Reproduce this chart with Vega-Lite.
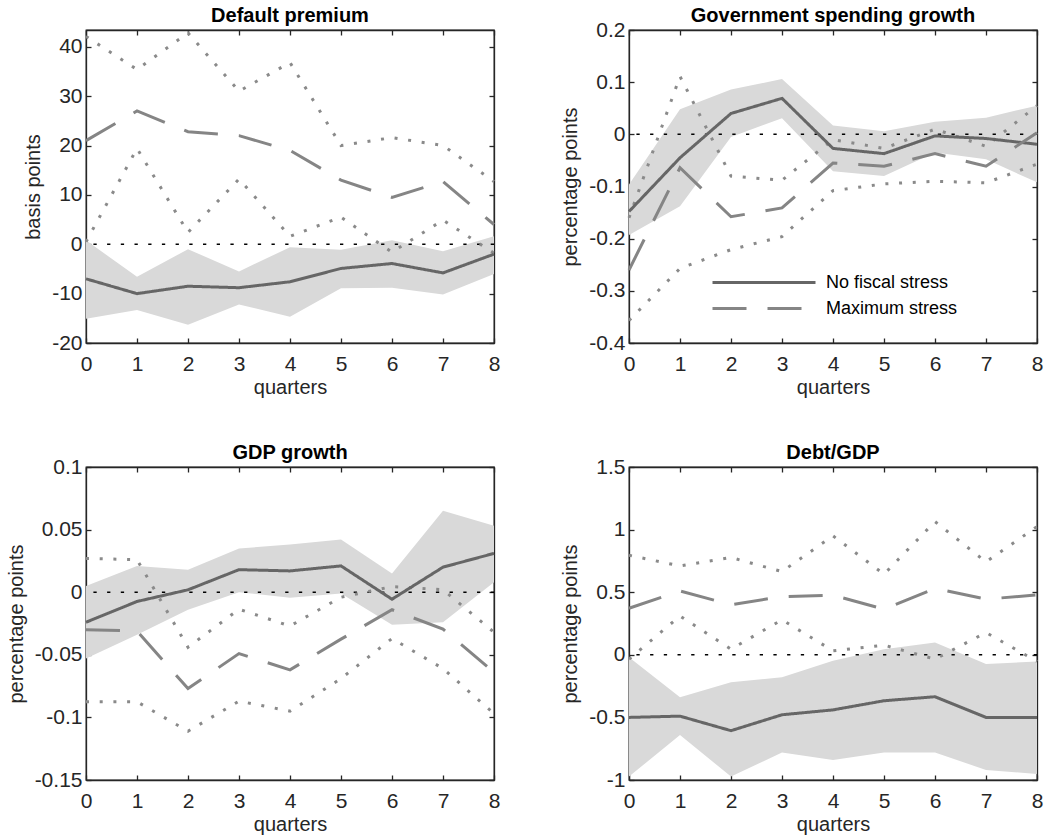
{
  "$schema": "https://vega.github.io/schema/vega-lite/v6.json",
  "padding": {"left": 5, "top": 5, "right": 5, "bottom": 0},
  "background": "white",
  "datasets": {
    "d": [
      {"panel": "dp", "q": 0, "nf": -7.0, "nflo": -15.1, "nfhi": 0.8, "ms": 21.0, "mslo": 0.5, "mshi": 42.1},
      {"panel": "dp", "q": 1, "nf": -10.0, "nflo": -13.3, "nfhi": -6.6, "ms": 27.0, "mslo": 19.4, "mshi": 35.4},
      {"panel": "dp", "q": 2, "nf": -8.5, "nflo": -16.3, "nfhi": -1.0, "ms": 22.8, "mslo": 2.4, "mshi": 42.8},
      {"panel": "dp", "q": 3, "nf": -8.8, "nflo": -12.2, "nfhi": -5.5, "ms": 22.0, "mslo": 13.2, "mshi": 31.0},
      {"panel": "dp", "q": 4, "nf": -7.6, "nflo": -14.7, "nfhi": -0.6, "ms": 19.0, "mslo": 1.6, "mshi": 36.8},
      {"panel": "dp", "q": 5, "nf": -4.9, "nflo": -8.9, "nfhi": -1.1, "ms": 13.0, "mslo": 5.5, "mshi": 20.0},
      {"panel": "dp", "q": 6, "nf": -3.9, "nflo": -8.8, "nfhi": 0.8, "ms": 9.5, "mslo": -1.6, "mshi": 21.6},
      {"panel": "dp", "q": 7, "nf": -5.8, "nflo": -10.2, "nfhi": -1.4, "ms": 12.7, "mslo": 4.9, "mshi": 20.0},
      {"panel": "dp", "q": 8, "nf": -2.0, "nflo": -6.0, "nfhi": 1.6, "ms": 4.0, "mslo": -1.8, "mshi": 12.7},
      {"panel": "gs", "q": 0, "nf": -0.148, "nflo": -0.193, "nfhi": -0.096, "ms": -0.26, "mslo": -0.357, "mshi": -0.16},
      {"panel": "gs", "q": 1, "nf": -0.045, "nflo": -0.138, "nfhi": 0.048, "ms": -0.064, "mslo": -0.257, "mshi": 0.111},
      {"panel": "gs", "q": 2, "nf": 0.04, "nflo": -0.005, "nfhi": 0.086, "ms": -0.158, "mslo": -0.221, "mshi": -0.08},
      {"panel": "gs", "q": 3, "nf": 0.069, "nflo": 0.031, "nfhi": 0.106, "ms": -0.141, "mslo": -0.196, "mshi": -0.088},
      {"panel": "gs", "q": 4, "nf": -0.027, "nflo": -0.071, "nfhi": 0.017, "ms": -0.055, "mslo": -0.108, "mshi": -0.01},
      {"panel": "gs", "q": 5, "nf": -0.037, "nflo": -0.08, "nfhi": 0.006, "ms": -0.061, "mslo": -0.095, "mshi": -0.027},
      {"panel": "gs", "q": 6, "nf": -0.003, "nflo": -0.035, "nfhi": 0.024, "ms": -0.037, "mslo": -0.09, "mshi": 0.01},
      {"panel": "gs", "q": 7, "nf": -0.008, "nflo": -0.048, "nfhi": 0.032, "ms": -0.061, "mslo": -0.093, "mshi": -0.023},
      {"panel": "gs", "q": 8, "nf": -0.019, "nflo": -0.092, "nfhi": 0.055, "ms": 0.003, "mslo": -0.057, "mshi": 0.055},
      {"panel": "gdp", "q": 0, "nf": -0.024, "nflo": -0.053, "nfhi": 0.005, "ms": -0.03, "mslo": -0.0875, "mshi": 0.027},
      {"panel": "gdp", "q": 1, "nf": -0.0074, "nflo": -0.034, "nfhi": 0.021, "ms": -0.031, "mslo": -0.0875, "mshi": 0.026},
      {"panel": "gdp", "q": 2, "nf": 0.0019, "nflo": -0.014, "nfhi": 0.018, "ms": -0.077, "mslo": -0.111, "mshi": -0.044},
      {"panel": "gdp", "q": 3, "nf": 0.018, "nflo": 0.0, "nfhi": 0.035, "ms": -0.049, "mslo": -0.087, "mshi": -0.0136},
      {"panel": "gdp", "q": 4, "nf": 0.017, "nflo": -0.0045, "nfhi": 0.038, "ms": -0.062, "mslo": -0.095, "mshi": -0.027},
      {"panel": "gdp", "q": 5, "nf": 0.021, "nflo": -0.001, "nfhi": 0.042, "ms": -0.0375, "mslo": -0.069, "mshi": -0.004},
      {"panel": "gdp", "q": 6, "nf": -0.0056, "nflo": -0.026, "nfhi": 0.015, "ms": -0.014, "mslo": -0.037, "mshi": 0.0045},
      {"panel": "gdp", "q": 7, "nf": 0.02, "nflo": -0.024, "nfhi": 0.065, "ms": -0.0295, "mslo": -0.061, "mshi": 0.002},
      {"panel": "gdp", "q": 8, "nf": 0.031, "nflo": 0.008, "nfhi": 0.053, "ms": -0.064, "mslo": -0.097, "mshi": -0.032},
      {"panel": "debt", "q": 0, "nf": -0.5, "nflo": -0.973, "nfhi": -0.02, "ms": 0.372, "mslo": -0.035, "mshi": 0.795},
      {"panel": "debt", "q": 1, "nf": -0.49, "nflo": -0.64, "nfhi": -0.34, "ms": 0.51, "mslo": 0.31, "mshi": 0.71},
      {"panel": "debt", "q": 2, "nf": -0.606, "nflo": -0.973, "nfhi": -0.22, "ms": 0.4, "mslo": 0.045, "mshi": 0.777},
      {"panel": "debt", "q": 3, "nf": -0.479, "nflo": -0.78, "nfhi": -0.18, "ms": 0.465, "mslo": 0.28, "mshi": 0.665},
      {"panel": "debt", "q": 4, "nf": -0.44, "nflo": -0.84, "nfhi": -0.048, "ms": 0.476, "mslo": 0.032, "mshi": 0.95},
      {"panel": "debt", "q": 5, "nf": -0.367, "nflo": -0.78, "nfhi": 0.045, "ms": 0.364, "mslo": 0.077, "mshi": 0.644},
      {"panel": "debt", "q": 6, "nf": -0.335, "nflo": -0.78, "nfhi": 0.098, "ms": 0.53, "mslo": -0.035, "mshi": 1.064},
      {"panel": "debt", "q": 7, "nf": -0.5, "nflo": -0.92, "nfhi": -0.074, "ms": 0.444, "mslo": 0.178, "mshi": 0.742},
      {"panel": "debt", "q": 8, "nf": -0.5, "nflo": -0.952, "nfhi": -0.053, "ms": 0.479, "mslo": -0.053, "mshi": 1.024}
    ]
  },
  "data": {"name": "d"},
  "columns": 2,
  "bounds": "flush",
  "spacing": {"row": 124, "column": 135},
  "resolve": {
    "scale": {"color": "independent", "strokeDash": "independent"},
    "legend": {"color": "independent", "strokeDash": "independent"}
  },
  "concat": [
    {
      "width": 408, "height": 313,
      "title": {"text": "Default premium", "offset": 1},
      "transform": [{"filter": "datum.panel === 'dp'"}],
      "resolve": {"axis": {"x": "independent", "y": "independent"}},
      "layer": [
        {
          "mark": {"type": "area", "color": "#d9d9d9", "opacity": 1},
          "encoding": {
            "x": {"field": "q", "type": "quantitative", "scale": {"domain": [0, 8], "nice": false}, "axis": {"orient": "top", "labels": false, "title": null, "values": [0,1,2,3,4,5,6,7,8]}},
            "y": {"field": "nflo", "type": "quantitative", "scale": {"domain": [-20, 43.4], "nice": false, "zero": false}, "axis": {"orient": "right", "labels": false, "title": null, "values": [-20,-10,0,10,20,30,40]}},
            "y2": {"field": "nfhi"}
          }
        },
        {
          "transform": [{"filter": "datum.q === 0"}],
          "mark": {"type": "rule", "color": "#000000", "strokeWidth": 1.5, "strokeDash": [3.3, 10.4]},
          "encoding": {"y": {"datum": 0, "type": "quantitative", "scale": {"domain": [-20, 43.4], "nice": false, "zero": false}, "axis": null}}
        },
        {
          "transform": [{"fold": ["mslo", "mshi"], "as": ["band", "bv"]}],
          "mark": {"type": "line", "color": "#8a8a8a", "strokeWidth": 3, "strokeDash": [3, 10.7], "strokeCap": "butt"},
          "encoding": {
            "x": {"field": "q", "type": "quantitative", "scale": {"domain": [0, 8], "nice": false}, "axis": null},
            "y": {"field": "bv", "type": "quantitative", "scale": {"domain": [-20, 43.4], "nice": false, "zero": false}, "axis": null},
            "detail": {"field": "band"}
          }
        },
        {
          "transform": [{"fold": ["nf", "ms"], "as": ["key", "v"]}],
          "mark": {"type": "line", "strokeWidth": 3, "strokeCap": "butt"},
          "encoding": {
            "x": {"field": "q", "type": "quantitative", "scale": {"domain": [0, 8], "nice": false}, "axis": {"title": "quarters", "values": [0,1,2,3,4,5,6,7,8]}},
            "y": {"field": "v", "type": "quantitative", "scale": {"domain": [-20, 43.4], "nice": false, "zero": false}, "axis": {"title": "basis points", "values": [-20,-10,0,10,20,30,40], "labelExpr": "'' + datum.value"}},
            "color": {"field": "key", "type": "nominal", "scale": {"domain": ["nf", "ms"], "range": ["#666666", "#858585"]}, "legend": null},
            "strokeDash": {"field": "key", "type": "nominal", "scale": {"domain": ["nf", "ms"], "range": [[1, 0], [34, 21]]}, "legend": null}
          }
        }
      ]
    },
    {
      "width": 408, "height": 313,
      "title": {"text": "Government spending growth", "offset": -7},
      "transform": [{"filter": "datum.panel === 'gs'"}],
      "resolve": {"axis": {"x": "independent", "y": "independent"}},
      "layer": [
        {
          "mark": {"type": "area", "color": "#d9d9d9", "opacity": 1},
          "encoding": {
            "x": {"field": "q", "type": "quantitative", "scale": {"domain": [0, 8], "nice": false}, "axis": {"orient": "top", "labels": false, "title": null, "values": [0,1,2,3,4,5,6,7,8]}},
            "y": {"field": "nflo", "type": "quantitative", "scale": {"domain": [-0.4, 0.2], "nice": false, "zero": false}, "axis": {"orient": "right", "labels": false, "title": null, "values": [-0.4,-0.3,-0.2,-0.1,0,0.1,0.2]}},
            "y2": {"field": "nfhi"}
          }
        },
        {
          "transform": [{"filter": "datum.q === 0"}],
          "mark": {"type": "rule", "color": "#000000", "strokeWidth": 1.5, "strokeDash": [3.3, 10.4]},
          "encoding": {"y": {"datum": 0, "type": "quantitative", "scale": {"domain": [-0.4, 0.2], "nice": false, "zero": false}, "axis": null}}
        },
        {
          "transform": [{"fold": ["mslo", "mshi"], "as": ["band", "bv"]}],
          "mark": {"type": "line", "color": "#8a8a8a", "strokeWidth": 3, "strokeDash": [3, 10.7], "strokeCap": "butt"},
          "encoding": {
            "x": {"field": "q", "type": "quantitative", "scale": {"domain": [0, 8], "nice": false}, "axis": null},
            "y": {"field": "bv", "type": "quantitative", "scale": {"domain": [-0.4, 0.2], "nice": false, "zero": false}, "axis": null},
            "detail": {"field": "band"}
          }
        },
        {
          "transform": [{"fold": ["nf", "ms"], "as": ["key", "v"]}],
          "mark": {"type": "line", "strokeWidth": 3, "strokeCap": "butt"},
          "encoding": {
            "x": {"field": "q", "type": "quantitative", "scale": {"domain": [0, 8], "nice": false}, "axis": {"title": "quarters", "values": [0,1,2,3,4,5,6,7,8]}},
            "y": {"field": "v", "type": "quantitative", "scale": {"domain": [-0.4, 0.2], "nice": false, "zero": false}, "axis": {"title": "percentage points", "values": [-0.4,-0.3,-0.2,-0.1,0,0.1,0.2], "labelExpr": "'' + datum.value"}},
            "color": {"field": "key", "type": "nominal", "scale": {"domain": ["nf", "ms"], "range": ["#666666", "#858585"]},
              "legend": {"orient": "none", "legendX": 165, "legendY": 241, "title": null, "symbolType": "M-9.3,0H1", "symbolSize": 400, "symbolStrokeWidth": 3, "labelFontSize": 18, "labelFont": "Liberation Sans", "labelColor": "#000000", "labelOffset": 9, "rowPadding": 5, "padding": 0, "labelExpr": "datum.label === 'nf' ? 'No fiscal stress' : 'Maximum stress'"}},
            "strokeDash": {"field": "key", "type": "nominal", "scale": {"domain": ["nf", "ms"], "range": [[1, 0], [34, 21]]},
              "legend": {"orient": "none", "legendX": 165, "legendY": 241, "title": null, "symbolType": "M-9.3,0H1", "symbolSize": 400, "symbolStrokeWidth": 3, "labelFontSize": 18, "labelFont": "Liberation Sans", "labelColor": "#000000", "labelOffset": 9, "rowPadding": 5, "padding": 0, "labelExpr": "datum.label === 'nf' ? 'No fiscal stress' : 'Maximum stress'"}}
          }
        }
      ]
    },
    {
      "width": 408, "height": 313,
      "title": {"text": "GDP growth", "offset": -7},
      "transform": [{"filter": "datum.panel === 'gdp'"}],
      "resolve": {"axis": {"x": "independent", "y": "independent"}},
      "layer": [
        {
          "mark": {"type": "area", "color": "#d9d9d9", "opacity": 1},
          "encoding": {
            "x": {"field": "q", "type": "quantitative", "scale": {"domain": [0, 8], "nice": false}, "axis": {"orient": "top", "labels": false, "title": null, "values": [0,1,2,3,4,5,6,7,8]}},
            "y": {"field": "nflo", "type": "quantitative", "scale": {"domain": [-0.15, 0.1], "nice": false, "zero": false}, "axis": {"orient": "right", "labels": false, "title": null, "values": [-0.15,-0.1,-0.05,0,0.05,0.1]}},
            "y2": {"field": "nfhi"}
          }
        },
        {
          "transform": [{"filter": "datum.q === 0"}],
          "mark": {"type": "rule", "color": "#000000", "strokeWidth": 1.5, "strokeDash": [3.3, 10.4]},
          "encoding": {"y": {"datum": 0, "type": "quantitative", "scale": {"domain": [-0.15, 0.1], "nice": false, "zero": false}, "axis": null}}
        },
        {
          "transform": [{"fold": ["mslo", "mshi"], "as": ["band", "bv"]}],
          "mark": {"type": "line", "color": "#8a8a8a", "strokeWidth": 3, "strokeDash": [3, 10.7], "strokeCap": "butt"},
          "encoding": {
            "x": {"field": "q", "type": "quantitative", "scale": {"domain": [0, 8], "nice": false}, "axis": null},
            "y": {"field": "bv", "type": "quantitative", "scale": {"domain": [-0.15, 0.1], "nice": false, "zero": false}, "axis": null},
            "detail": {"field": "band"}
          }
        },
        {
          "transform": [{"fold": ["nf", "ms"], "as": ["key", "v"]}],
          "mark": {"type": "line", "strokeWidth": 3, "strokeCap": "butt"},
          "encoding": {
            "x": {"field": "q", "type": "quantitative", "scale": {"domain": [0, 8], "nice": false}, "axis": {"title": "quarters", "values": [0,1,2,3,4,5,6,7,8]}},
            "y": {"field": "v", "type": "quantitative", "scale": {"domain": [-0.15, 0.1], "nice": false, "zero": false}, "axis": {"title": "percentage points", "values": [-0.15,-0.1,-0.05,0,0.05,0.1], "labelExpr": "'' + datum.value"}},
            "color": {"field": "key", "type": "nominal", "scale": {"domain": ["nf", "ms"], "range": ["#666666", "#858585"]}, "legend": null},
            "strokeDash": {"field": "key", "type": "nominal", "scale": {"domain": ["nf", "ms"], "range": [[1, 0], [34, 21]]}, "legend": null}
          }
        }
      ]
    },
    {
      "width": 408, "height": 313,
      "title": {"text": "Debt/GDP", "offset": -7},
      "transform": [{"filter": "datum.panel === 'debt'"}],
      "resolve": {"axis": {"x": "independent", "y": "independent"}},
      "layer": [
        {
          "mark": {"type": "area", "color": "#d9d9d9", "opacity": 1},
          "encoding": {
            "x": {"field": "q", "type": "quantitative", "scale": {"domain": [0, 8], "nice": false}, "axis": {"orient": "top", "labels": false, "title": null, "values": [0,1,2,3,4,5,6,7,8]}},
            "y": {"field": "nflo", "type": "quantitative", "scale": {"domain": [-1, 1.5], "nice": false, "zero": false}, "axis": {"orient": "right", "labels": false, "title": null, "values": [-1,-0.5,0,0.5,1,1.5]}},
            "y2": {"field": "nfhi"}
          }
        },
        {
          "transform": [{"filter": "datum.q === 0"}],
          "mark": {"type": "rule", "color": "#000000", "strokeWidth": 1.5, "strokeDash": [3.3, 10.4]},
          "encoding": {"y": {"datum": 0, "type": "quantitative", "scale": {"domain": [-1, 1.5], "nice": false, "zero": false}, "axis": null}}
        },
        {
          "transform": [{"fold": ["mslo", "mshi"], "as": ["band", "bv"]}],
          "mark": {"type": "line", "color": "#8a8a8a", "strokeWidth": 3, "strokeDash": [3, 10.7], "strokeCap": "butt"},
          "encoding": {
            "x": {"field": "q", "type": "quantitative", "scale": {"domain": [0, 8], "nice": false}, "axis": null},
            "y": {"field": "bv", "type": "quantitative", "scale": {"domain": [-1, 1.5], "nice": false, "zero": false}, "axis": null},
            "detail": {"field": "band"}
          }
        },
        {
          "transform": [{"fold": ["nf", "ms"], "as": ["key", "v"]}],
          "mark": {"type": "line", "strokeWidth": 3, "strokeCap": "butt"},
          "encoding": {
            "x": {"field": "q", "type": "quantitative", "scale": {"domain": [0, 8], "nice": false}, "axis": {"title": "quarters", "values": [0,1,2,3,4,5,6,7,8]}},
            "y": {"field": "v", "type": "quantitative", "scale": {"domain": [-1, 1.5], "nice": false, "zero": false}, "axis": {"title": "percentage points", "values": [-1,-0.5,0,0.5,1,1.5], "labelExpr": "'' + datum.value"}},
            "color": {"field": "key", "type": "nominal", "scale": {"domain": ["nf", "ms"], "range": ["#666666", "#858585"]}, "legend": null},
            "strokeDash": {"field": "key", "type": "nominal", "scale": {"domain": ["nf", "ms"], "range": [[1, 0], [34, 21]]}, "legend": null}
          }
        }
      ]
    }
  ],
  "config": {
    "font": "Liberation Sans",
    "view": {"stroke": "#262626", "strokeWidth": 1.3},
    "axis": {
      "grid": false,
      "domainColor": "#262626", "domainWidth": 1.3,
      "tickColor": "#262626", "tickWidth": 1.3, "tickSize": -5,
      "labelColor": "#262626", "labelFontSize": 21, "labelFont": "Liberation Sans", "labelFlush": false,
      "titleFont": "Liberation Sans", "titleFontSize": 20, "titleFontWeight": "normal", "titleColor": "#262626"
    },
    "axisX": {"labelPadding": 15, "titlePadding": 3, "labelAngle": 0},
    "axisY": {"labelPadding": 9, "titlePadding": 8},
    "title": {"font": "Liberation Sans", "fontSize": 20, "fontWeight": "bold", "color": "#000000", "anchor": "middle", "frame": "group", "baseline": "alphabetic"}
  }
}
